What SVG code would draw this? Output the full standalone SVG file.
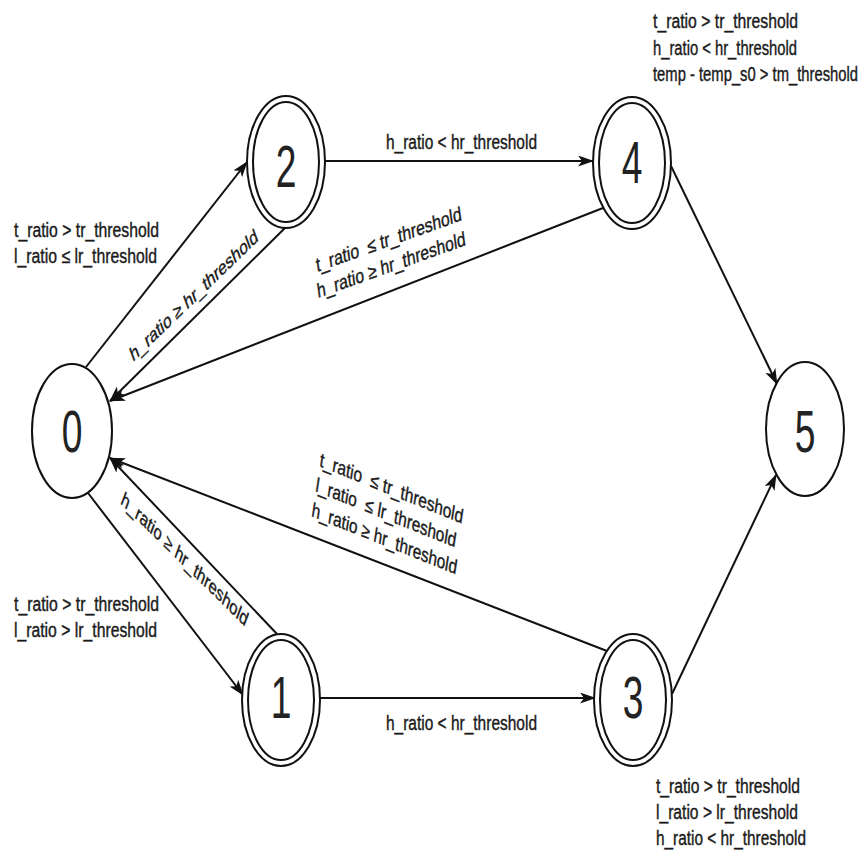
<svg xmlns="http://www.w3.org/2000/svg" width="868" height="852" viewBox="0 0 868 852">
<defs>
<style>
.n{fill:#fff;stroke:#111;stroke-width:2}
.d{font-family:"Liberation Sans",Arial,sans-serif;font-size:60px;fill:#222;text-anchor:middle}
.t{font-family:"Liberation Sans",Arial,sans-serif;font-size:20px;fill:#1a1a1a;stroke:#1a1a1a;stroke-width:0.4;white-space:pre}
.e{fill:none;stroke:#111;stroke-width:2;marker-end:url(#arr)}
</style>
<marker id="arr" viewBox="0 0 16 11" refX="15" refY="5.5" markerWidth="16" markerHeight="11" markerUnits="userSpaceOnUse" orient="auto">
<path d="M0,0 L16,5.5 L0,11 L4,5.5 z" fill="#111"/>
</marker>
</defs>
<rect width="868" height="852" fill="#fff"/>
<g id="connectors">
<line class="e" x1="86" y1="367" x2="247" y2="162"/>
<line class="e" x1="285" y1="228" x2="110" y2="401"/>
<line class="e" x1="325" y1="161" x2="593" y2="161"/>
<line class="e" x1="603" y1="208" x2="110" y2="401"/>
<line class="e" x1="671" y1="166" x2="777" y2="384"/>
<line class="e" x1="88" y1="493" x2="243" y2="695"/>
<line class="e" x1="277" y1="634" x2="110" y2="458"/>
<line class="e" x1="320" y1="698" x2="595" y2="698"/>
<line class="e" x1="607" y1="651" x2="110" y2="458"/>
<line class="e" x1="672" y1="694" x2="776" y2="475"/>
</g>
<g id="node0">
<ellipse class="n" cx="72" cy="431" rx="40" ry="67"/>
<text class="d" transform="translate(72 452) scale(0.62 1)">0</text>
</g>
<g id="node2">
<ellipse class="n" cx="286" cy="162" rx="39" ry="66"/>
<ellipse class="n" cx="286" cy="162" rx="33" ry="60"/>
<text class="d" transform="translate(286 187) scale(0.62 1)">2</text>
</g>
<g id="node4">
<ellipse class="n" cx="632" cy="163" rx="39" ry="66"/>
<ellipse class="n" cx="632" cy="163" rx="33" ry="60"/>
<text class="d" transform="translate(632 183) scale(0.62 1)">4</text>
</g>
<g id="node5">
<ellipse class="n" cx="805" cy="429" rx="39" ry="67"/>
<text class="d" transform="translate(805 452) scale(0.62 1)">5</text>
</g>
<g id="node1">
<ellipse class="n" cx="281" cy="700" rx="39" ry="66"/>
<ellipse class="n" cx="281" cy="700" rx="33" ry="60"/>
<text class="d" transform="translate(281 718) scale(0.62 1)">1</text>
</g>
<g id="node3">
<ellipse class="n" cx="633" cy="700" rx="39" ry="66"/>
<ellipse class="n" cx="633" cy="700" rx="33" ry="60"/>
<text class="d" transform="translate(633 718) scale(0.62 1)">3</text>
</g>
<g id="labels">
<text class="t" x="653" y="28" textLength="145" lengthAdjust="spacingAndGlyphs">t_ratio &gt; tr_threshold</text>
<text class="t" x="653" y="55" textLength="144" lengthAdjust="spacingAndGlyphs">h_ratio &lt; hr_threshold</text>
<text class="t" transform="translate(653 81) scale(0.74 1)">temp - temp_s0 &gt; tm_threshold</text>
<text class="t" x="14" y="237" textLength="145" lengthAdjust="spacingAndGlyphs">t_ratio &gt; tr_threshold</text>
<text class="t" x="14" y="263" textLength="143" lengthAdjust="spacingAndGlyphs">l_ratio ≤ lr_threshold</text>
<text class="t" x="14" y="611" textLength="145" lengthAdjust="spacingAndGlyphs">t_ratio &gt; tr_threshold</text>
<text class="t" x="14" y="637" textLength="143" lengthAdjust="spacingAndGlyphs">l_ratio &gt; lr_threshold</text>
<text class="t" x="656" y="793" textLength="144" lengthAdjust="spacingAndGlyphs">t_ratio &gt; tr_threshold</text>
<text class="t" x="656" y="819" textLength="142" lengthAdjust="spacingAndGlyphs">l_ratio &gt; lr_threshold</text>
<text class="t" x="656" y="845" textLength="150" lengthAdjust="spacingAndGlyphs">h_ratio &lt; hr_threshold</text>
<text class="t" x="386" y="149" textLength="151" lengthAdjust="spacingAndGlyphs">h_ratio &lt; hr_threshold</text>
<text class="t" x="386" y="730" textLength="151" lengthAdjust="spacingAndGlyphs">h_ratio &lt; hr_threshold</text>
<text class="t" transform="translate(133 362) scale(0.62 1) rotate(-31)" textLength="237" lengthAdjust="spacingAndGlyphs">h_ratio ≥ hr_threshold</text>
<text class="t" transform="translate(120 503) scale(0.62 1) rotate(31.5)" textLength="237" lengthAdjust="spacingAndGlyphs">h_ratio ≥ hr_threshold</text>
<text class="t" transform="translate(317 272) scale(0.62 1) rotate(-12.5)" textLength="240" lengthAdjust="spacingAndGlyphs">t_ratio  ≤ tr_threshold</text>
<text class="t" transform="translate(318 298) scale(0.62 1) rotate(-12.5)" textLength="245" lengthAdjust="spacingAndGlyphs">h_ratio ≥ hr_threshold</text>
<text class="t" transform="translate(319 466) scale(0.62 1) rotate(14)" textLength="238" lengthAdjust="spacingAndGlyphs">t_ratio  ≤ tr_threshold</text>
<text class="t" transform="translate(315 491) scale(0.62 1) rotate(14)" textLength="233" lengthAdjust="spacingAndGlyphs">l_ratio  ≤ lr_threshold</text>
<text class="t" transform="translate(311 516) scale(0.62 1) rotate(14)" textLength="241" lengthAdjust="spacingAndGlyphs">h_ratio ≥ hr_threshold</text>
</g>
</svg>
